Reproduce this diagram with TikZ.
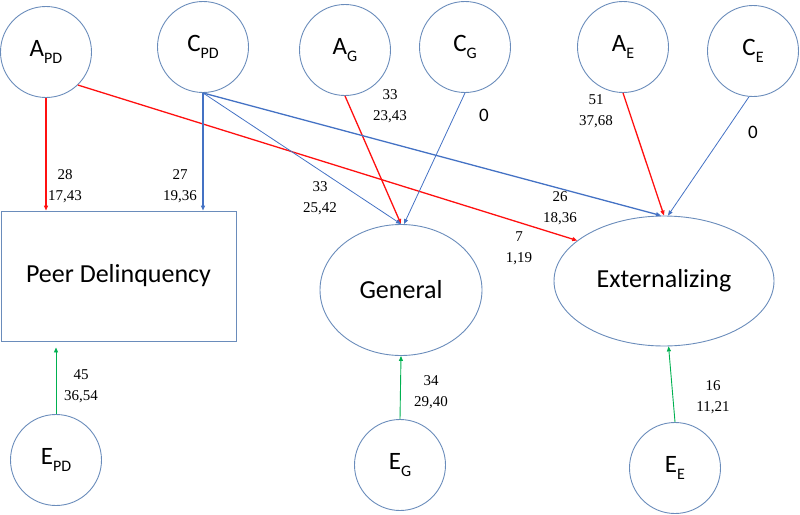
\documentclass[tikz,border=0pt]{standalone}
\usepackage{fontspec}
\setmainfont{Carlito}
\newfontfamily\timesfont{Liberation Serif}
\usetikzlibrary{arrows.meta,shapes.geometric,positioning}

\definecolor{ringblue}{HTML}{6A8CBB}
\definecolor{pathred}{HTML}{FF1010}
\definecolor{pathblue}{HTML}{4472C4}
\definecolor{pathgreen}{HTML}{00B050}
\newcommand{\lowsub}[1]{\raisebox{-7pt}{\fontsize{16}{16}\selectfont #1}}

\begin{document}
\begin{tikzpicture}[x=1pt, y=-1pt, >={Triangle[length=5pt,width=4pt]},
    latent/.style={circle, draw=ringblue, line width=0.9pt, minimum size=91pt, inner sep=0pt, font=\fontsize{25}{28}\selectfont},
    factor/.style={ellipse, draw=ringblue, line width=0.9pt, inner sep=0pt, font=\fontsize{26}{30}\selectfont},
    est/.style={font=\timesfont\fontsize{15}{21}\selectfont, align=center, inner sep=0pt},
    zero/.style={font=\fontsize{19}{22}\selectfont, inner sep=0pt},
    redpath/.style={->, draw=pathred, line width=1.3pt},
    bluepath/.style={->, draw=pathblue, line width=1.3pt},
    thinblue/.style={->, draw=pathblue, line width=0.8pt},
    greenpath/.style={->, draw=pathgreen, line width=0.9pt}]

    \useasboundingbox (0,0) rectangle (800,514);

    % variance components
    \node[latent] (apd) at (46,52)  {A\lowsub{PD}};
    \node[latent] (cpd) at (203,47) {C\lowsub{PD}};
    \node[latent] (ag)  at (345,50) {A\lowsub{G}};
    \node[latent] (cg)  at (465,47) {C\lowsub{G}};
    \node[latent] (ae)  at (623,47) {A\lowsub{E}};
    \node[latent] (ce)  at (753,51) {C\lowsub{E}};

    % phenotypes
    \node[rectangle, draw=ringblue, line width=0.9pt, minimum width=235pt, minimum height=130pt, font=\fontsize{26}{30}\selectfont] (pd) at (118.5,276) {Peer Delinquency};
    \node[factor, minimum width=162pt, minimum height=131pt] (gen) at (401,290) {General};
    \node[factor, minimum width=220pt, minimum height=130pt] (ext) at (664,281) {Externalizing};

    % unique environment
    \node[latent] (epd) at (56,460)  {E\lowsub{PD}};
    \node[latent] (eg)  at (400,465) {E\lowsub{G}};
    \node[latent] (ee)  at (675,468) {E\lowsub{E}};

    \draw[redpath]   (apd.south) -- (apd.south |- pd.north);
    \draw[redpath]   (apd.-46)   -- (ext.155);
    \draw[redpath]   (ag.south)  -- (gen.north);
    \draw[redpath]   (ae.south)  -- (ext.north);
    \draw[bluepath]  (cpd.south) -- (cpd.south |- pd.north);
    \draw[bluepath]  (cpd.south) -- ([xshift=-3pt]ext.north);
    \draw[thinblue]  (cpd.south) -- (gen.north);
    \draw[thinblue]  (cg.south)  -- ([xshift=3pt]gen.north);
    \draw[thinblue]  (ce.-95)    -- ([xshift=4pt]ext.north);
    \draw[greenpath, shorten >=6pt] (epd.north) -- (epd.north |- pd.south);
    \draw[greenpath] (eg.north)  -- (gen.south);
    \draw[greenpath] (ee.north)  -- (ext.-86);

    % estimates
    \node[est]  (l-apd)  at (65,186)  {28\\17,43};
    \node[est]  (l-cpd)  at (180,186) {27\\19,36};
    \node[est]  (l-cpdg) at (320,198) {33\\25,42};
    \node[est]  (l-ag)   at (390,106) {33\\23,43};
    \node[zero] (l-cg)   at (484,115) {0};
    \node[est]  (l-ae)   at (596,111) {51\\37,68};
    \node[zero] (l-ce)   at (753,132) {0};
    \node[est]  (l-cpde) at (560,208) {26\\18,36};
    \node[est]  (l-apde) at (519,248) {7\\1,19};
    \node[est]  (l-epd)  at (81,386)  {45\\36,54};
    \node[est]  (l-eg)   at (431,392) {34\\29,40};
    \node[est]  (l-ee)   at (713,397) {16\\11,21};

\end{tikzpicture}
\end{document}
